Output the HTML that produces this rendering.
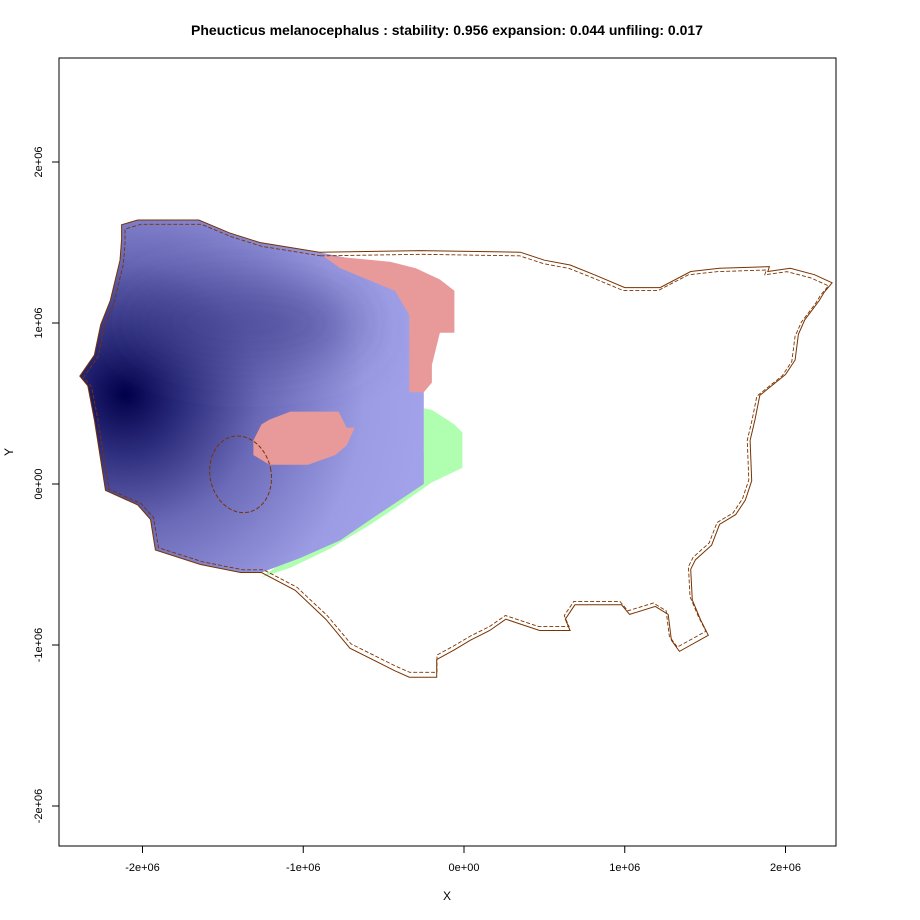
<!DOCTYPE html>
<html><head><meta charset="utf-8"><style>
body{margin:0;background:#fff;}
svg{display:block;font-family:"Liberation Sans",sans-serif;}
</style></head><body>
<svg id="c" width="920" height="920" viewBox="0 0 920 920">
<defs>
<radialGradient id="g1" gradientUnits="userSpaceOnUse" cx="125" cy="395" r="300">
<stop offset="0" stop-color="#00004a"/><stop offset="0.18" stop-color="#2a2a7a"/><stop offset="0.45" stop-color="#6a6ab8"/><stop offset="0.8" stop-color="#9c9ce4"/><stop offset="1" stop-color="#a2a2ea"/>
</radialGradient>
<filter id="bl" x="-100%" y="-200%" width="300%" height="500%"><feGaussianBlur stdDeviation="28"/></filter>
<clipPath id="cp"><polygon id="cpp"/></clipPath>
</defs>
<text x="447" y="35" text-anchor="middle" font-size="14" font-weight="bold">Pheucticus melanocephalus : stability: 0.956 expansion: 0.044 unfiling: 0.017</text>
<g id="plot"></g>
<rect x="59" y="58" width="777" height="788" fill="none" stroke="#000"/>
<g id="axes"></g>
<text x="447" y="900" text-anchor="middle" font-size="12">X</text>
<text x="13" y="452" text-anchor="middle" font-size="12" transform="rotate(-90 13 452)">Y</text>
</svg>
<script>
const xTicks=[-2,-1,0,1,2];
const xTickLabels=["-2e+06","-1e+06","0e+00","1e+06","2e+06"];
const yTicks=[-2,-1,0,1,2];
const yTickLabels=["-2e+06","-1e+06","0e+00","1e+06","2e+06"];
const blueRegion=[[-2.13,1.61],[-2.03,1.64],[-1.65,1.64],[-1.46,1.56],[-1.27,1.50],[-0.90,1.44],[-0.52,1.36],[-0.34,1.14],[-0.25,0.93],[-0.25,0.0],[-0.40,-0.10],[-0.58,-0.22],[-0.77,-0.35],[-1.02,-0.46],[-1.26,-0.55],[-1.39,-0.55],[-1.64,-0.50],[-1.92,-0.41],[-1.95,-0.22],[-2.03,-0.13],[-2.23,-0.04],[-2.26,0.15],[-2.30,0.40],[-2.34,0.61],[-2.39,0.67],[-2.30,0.80],[-2.26,0.99],[-2.20,1.14],[-2.14,1.39],[-2.13,1.52]];
const pinkUpper=[[-0.88,1.42],[-0.46,1.38],[-0.30,1.34],[-0.15,1.27],[-0.06,1.20],[-0.06,0.94],[-0.15,0.94],[-0.20,0.74],[-0.20,0.63],[-0.25,0.57],[-0.34,0.57],[-0.34,1.05],[-0.43,1.20],[-0.77,1.34]];
const pinkLower=[[-1.21,0.40],[-1.08,0.45],[-0.78,0.45],[-0.73,0.35],[-0.68,0.35],[-0.73,0.24],[-0.80,0.18],[-0.97,0.12],[-1.21,0.12],[-1.31,0.18],[-1.31,0.27],[-1.26,0.37]];
const greenRegion=[[-0.25,0.47],[-0.20,0.46],[-0.06,0.37],[-0.01,0.32],[-0.01,0.10],[-0.20,0.01],[-0.40,-0.13],[-0.58,-0.25],[-0.83,-0.40],[-1.08,-0.52],[-1.26,-0.58],[-0.6,-0.1],[-0.25,0.2]];
const outlineEast=[[-0.90,1.44],[-0.27,1.45],[0.35,1.44],[0.50,1.39],[0.66,1.36],[0.81,1.30],[1.00,1.22],[1.22,1.22],[1.41,1.32],[1.59,1.34],[1.90,1.35],[1.89,1.32],[2.03,1.34],[2.18,1.30],[2.29,1.25],[2.24,1.19],[2.21,1.14],[2.12,1.02],[2.08,0.93],[2.06,0.77],[2.00,0.68],[1.84,0.55],[1.81,0.40],[1.78,0.27],[1.79,0.02],[1.75,-0.10],[1.69,-0.19],[1.59,-0.25],[1.54,-0.38],[1.44,-0.47],[1.41,-0.53],[1.42,-0.72],[1.47,-0.84],[1.52,-0.94],[1.34,-1.04],[1.29,-0.97],[1.27,-0.81],[1.19,-0.76],[1.03,-0.81],[0.98,-0.75],[0.69,-0.75],[0.63,-0.84],[0.66,-0.91],[0.47,-0.91],[0.26,-0.84],[0.16,-0.91],[0.04,-0.97],[-0.06,-1.03],[-0.17,-1.09],[-0.17,-1.20],[-0.34,-1.20],[-0.43,-1.16],[-0.71,-1.02],[-0.86,-0.84],[-1.05,-0.66],[-1.26,-0.55]];
const ovalCenter=[-1.39,0.06];
const ovalRadii=[0.19,0.24];
const darkBandCenter=[-1.35,1.0];

const X=v=>464+v*160.75, Y=v=>484-v*161;
const NS="http://www.w3.org/2000/svg";
const plot=document.getElementById('plot'), axes=document.getElementById('axes');
const pts=a=>a.map(p=>X(p[0]).toFixed(1)+","+Y(p[1]).toFixed(1)).join(" ");
function mk(tag,attrs,parent){const e=document.createElementNS(NS,tag);for(const k in attrs)e.setAttribute(k,attrs[k]);parent.appendChild(e);return e;}

const g=mk('polygon',{points:pts(greenRegion),fill:'#b0ffb0'},plot);


const b=mk('polygon',{points:pts(blueRegion),fill:'url(#g1)'},plot);


document.getElementById('cpp').setAttribute('points',pts(blueRegion));
const clipG=mk('g',{'clip-path':'url(#cp)'},plot);
const band=mk('ellipse',{cx:X(darkBandCenter[0]),cy:Y(darkBandCenter[1]),rx:120,ry:40,fill:'#3a3a88',opacity:0.6,filter:'url(#bl)'},clipG);


[pinkUpper,pinkLower].forEach((a,i)=>{const p=mk('polygon',{points:pts(a),fill:'#e89a9a'},plot);

});
const west=blueRegion.slice(15).concat(blueRegion.slice(0,6));
const full=outlineEast.concat(west);
const o=mk('polygon',{points:pts(full),fill:'none',stroke:'#7a3300','stroke-width':1},plot);


const cx=X(0),cy=Y(0.3);
const d=mk('polygon',{points:pts(full),fill:'none',stroke:'#7a3300','stroke-width':0.9,'stroke-dasharray':'4,2',transform:`translate(${cx} ${cy}) scale(0.99 0.98) translate(${-cx} ${-cy})`},plot);


const ov=mk('ellipse',{cx:X(ovalCenter[0]),cy:Y(ovalCenter[1]),rx:ovalRadii[0]*160.75,ry:ovalRadii[1]*161,fill:'none',stroke:'#7a3300','stroke-dasharray':'4,2',transform:`rotate(-12 ${X(ovalCenter[0])} ${Y(ovalCenter[1])})`},plot);



xTicks.forEach((v,i)=>{mk('line',{x1:X(v),x2:X(v),y1:846,y2:853,stroke:'#000'},axes);
const t=mk('text',{x:X(v),y:871,'text-anchor':'middle','font-size':11},axes);t.textContent=xTickLabels[i];

});
yTicks.forEach((v,i)=>{mk('line',{x1:52,x2:59,y1:Y(v),y2:Y(v),stroke:'#000'},axes);
const t=mk('text',{x:42,y:Y(v),'text-anchor':'middle','font-size':11,transform:`rotate(-90 42 ${Y(v)})`},axes);t.textContent=yTickLabels[i];

});
</script>
</body></html>
